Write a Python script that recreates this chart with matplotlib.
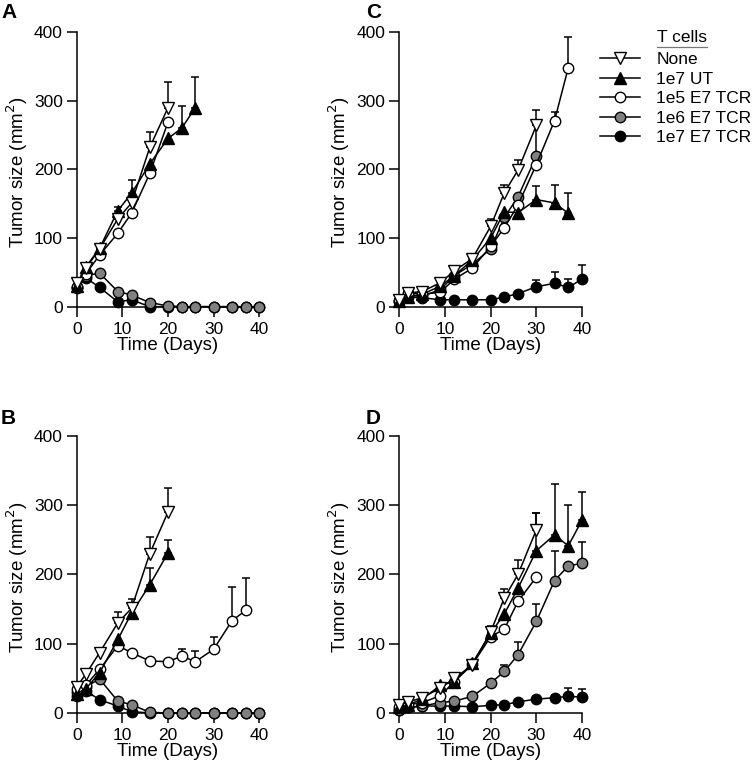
import numpy as np
import matplotlib
matplotlib.use("Agg")
import matplotlib.pyplot as plt
from matplotlib.lines import Line2D

plt.rcParams['font.family'] = ['Liberation Sans', 'DejaVu Sans']

days = [0, 2, 5, 9, 12, 16, 20, 23, 26, 30, 34, 37, 40]
labels = ['None', '1e7 UT', '1e5 E7 TCR', '1e6 E7 TCR', '1e7 E7 TCR']

# panel A
A_none = [34, 56, 84, 128, 151, 232, 290]
A_none_err = [0, 0, 5, 5, 0, 22, 37]
A_ut = [30, 58, 85, 140, 165, 208, 245, 260, 290]
A_ut_err = [0, 0, 4, 5, 20, 0, 0, 32, 44]
A_e5 = [28, 48, 75, 107, 136, 194, 269]
A_e5_err = [0, 0, 0, 0, 0, 0, 0]
A_e6 = [28, 45, 49, 22, 17, 6, 1, 0, 0, 0, 0, 0, 0]
A_e6_err = [0] * 13
A_e7 = [27, 42, 28, 7, 10, 0, 0, 0, 0, 0, 0, 0, 0]
A_e7_err = [0] * 13

# panel B
B_none = [38, 56, 87, 130, 151, 230, 290]
B_none_err = [0, 0, 0, 16, 13, 24, 35]
B_ut = [28, 35, 58, 106, 144, 185, 231]
B_ut_err = [0, 0, 0, 0, 0, 24, 19]
B_e5 = [34, 40, 63, 97, 87, 75, 74, 82, 74, 92, 133, 148]
B_e5_err = [0, 0, 0, 0, 0, 0, 0, 11, 16, 18, 48, 47]
B_e6 = [30, 38, 49, 17, 12, 1, 0, 0, 0, 0, 0, 0, 0]
B_e6_err = [0] * 13
B_e7 = [24, 32, 19, 10, 2, 0, 0, 0, 0, 0, 0, 0, 0]
B_e7_err = [0] * 13

# panel C
C_none = [10, 20, 22, 35, 52, 70, 117, 166, 199, 264]
C_none_err = [0, 0, 0, 0, 0, 3, 10, 11, 14, 22]
C_ut = [8, 14, 18, 30, 45, 68, 100, 138, 137, 156, 151, 136]
C_ut_err = [0, 0, 0, 0, 0, 0, 0, 0, 0, 20, 26, 29]
C_e5 = [8, 20, 18, 21, 40, 56, 88, 115, 148, 207, 271, 348]
C_e5_err = [0, 0, 0, 0, 0, 0, 0, 0, 0, 0, 12, 45]
C_e6 = [8, 17, 15, 25, 45, 62, 84, 130, 160, 219]
C_e6_err = [0, 0, 0, 0, 0, 0, 0, 0, 0, 45]
C_e7 = [8, 14, 13, 10, 10, 10, 10, 14, 19, 29, 34, 28, 40]
C_e7_err = [0, 0, 0, 0, 0, 0, 0, 0, 0, 10, 16, 13, 20]

# panel D
D_none = [11, 16, 22, 36, 50, 69, 117, 166, 200, 264]
D_none_err = [0, 0, 0, 0, 0, 5, 8, 13, 21, 24]
D_ut = [8, 12, 20, 40, 45, 72, 115, 143, 180, 234, 257, 241, 278]
D_ut_err = [0, 0, 0, 3, 0, 5, 8, 0, 0, 55, 73, 59, 41]
D_e5 = [8, 12, 15, 25, 45, 70, 110, 121, 161, 196]
D_e5_err = [0] * 10
D_e6 = [5, 8, 10, 15, 17, 24, 43, 60, 84, 132, 191, 212, 216]
D_e6_err = [0, 0, 0, 0, 0, 0, 4, 9, 18, 25, 43, 0, 31]
D_e7 = [5, 8, 10, 10, 10, 9, 11, 12, 16, 20, 22, 24, 23]
D_e7_err = [0, 0, 0, 0, 0, 0, 0, 0, 0, 0, 4, 12, 11]

styles = [
    dict(marker='v', mfc='white', ms=8.5),
    dict(marker='^', mfc='black', ms=8.5),
    dict(marker='o', mfc='white', ms=7.5),
    dict(marker='o', mfc='#808080', ms=7.5),
    dict(marker='o', mfc='black', ms=7.5),
]
# drawing order: black, gray, open circle, UT, None
order = [4, 3, 2, 1, 0]


def draw(ax, series):
    for k, i in enumerate(order):
        y, err = series[i]
        x = np.array(days[:len(y)])
        y = np.array(y, float)
        err = np.array(err, float)
        m = err > 0
        z = 2 + k
        if m.any():
            ax.errorbar(x[m], y[m], yerr=[np.zeros(m.sum()), err[m]], fmt='none',
                        ecolor='black', elinewidth=1.1, capsize=3, capthick=1.1,
                        zorder=z, clip_on=False)
        ax.plot(x, y, color='black', lw=1.1, mec='black', mew=1.0,
                zorder=z + 0.5, clip_on=False, **styles[i])
    ax.set_xlim(-1.5, 41.5)
    ax.set_ylim(-12, 405)
    for s in ['top', 'right']:
        ax.spines[s].set_visible(False)
    ax.spines['left'].set_position(('data', 0))
    ax.spines['bottom'].set_position(('data', 0))
    ax.spines['left'].set_bounds(0, 400)
    ax.spines['bottom'].set_bounds(0, 40)
    for s in ['left', 'bottom']:
        ax.spines[s].set_linewidth(1.1)
    ax.set_xticks([0, 10, 20, 30, 40])
    ax.set_yticks([0, 100, 200, 300, 400])
    ax.tick_params(direction='out', length=7, width=1.1, labelsize=12.5, pad=3)
    ax.tick_params(axis='x', pad=4)
    ax.set_xlabel('Time (Days)', fontsize=13.5, labelpad=0)
    ax.set_ylabel('Tumor size (mm$^2$)', fontsize=13.5, labelpad=3)


fig = plt.figure(figsize=(7.55, 7.64), dpi=100)
W, H = 755, 764


def add_ax(left_px, top_px, bottom_px):
    return fig.add_axes([left_px / W, 1 - bottom_px / H, 196.3 / W, (bottom_px - top_px) / H])


axA = add_ax(69.9, 28.6, 314.9)
axC = add_ax(392.5, 28.6, 314.9)
axB = add_ax(69.9, 432.2, 721.3)
axD = add_ax(392.5, 432.2, 721.3)

draw(axA, [(A_none, A_none_err), (A_ut, A_ut_err), (A_e5, A_e5_err),
           (A_e6, A_e6_err), (A_e7, A_e7_err)])
draw(axC, [(C_none, C_none_err), (C_ut, C_ut_err), (C_e5, C_e5_err),
           (C_e6, C_e6_err), (C_e7, C_e7_err)])
draw(axB, [(B_none, B_none_err), (B_ut, B_ut_err), (B_e5, B_e5_err),
           (B_e6, B_e6_err), (B_e7, B_e7_err)])
draw(axD, [(D_none, D_none_err), (D_ut, D_ut_err), (D_e5, D_e5_err),
           (D_e6, D_e6_err), (D_e7, D_e7_err)])

for letter, (px, py) in zip('ABCD', [(1, 12), (1, 418), (366, 12), (366, 418)]):
    fig.text(px / W, 1 - py / H, letter, fontsize=15, fontweight='bold', va='center', ha='left')

# legend
leg_handles = [Line2D([], [], color='black', lw=1.1, mec='black', mew=1.0, **styles[i])
               for i in range(5)]
fig.legend(leg_handles, labels, loc='upper left', bbox_to_anchor=(600 / W, 1 - 52 / H),
           frameon=False, fontsize=12.5, handlelength=2.3, handletextpad=0.95,
           labelspacing=0.25, borderpad=0, borderaxespad=0)
fig.text(657 / W, 1 - 38 / H, 'T cells', fontsize=12.5, va='center', ha='left')
fig.add_artist(Line2D([657 / W, 707 / W], [1 - 47 / H, 1 - 47 / H], color='#777777', lw=0.9))

fig.savefig('out.png', dpi=100)
